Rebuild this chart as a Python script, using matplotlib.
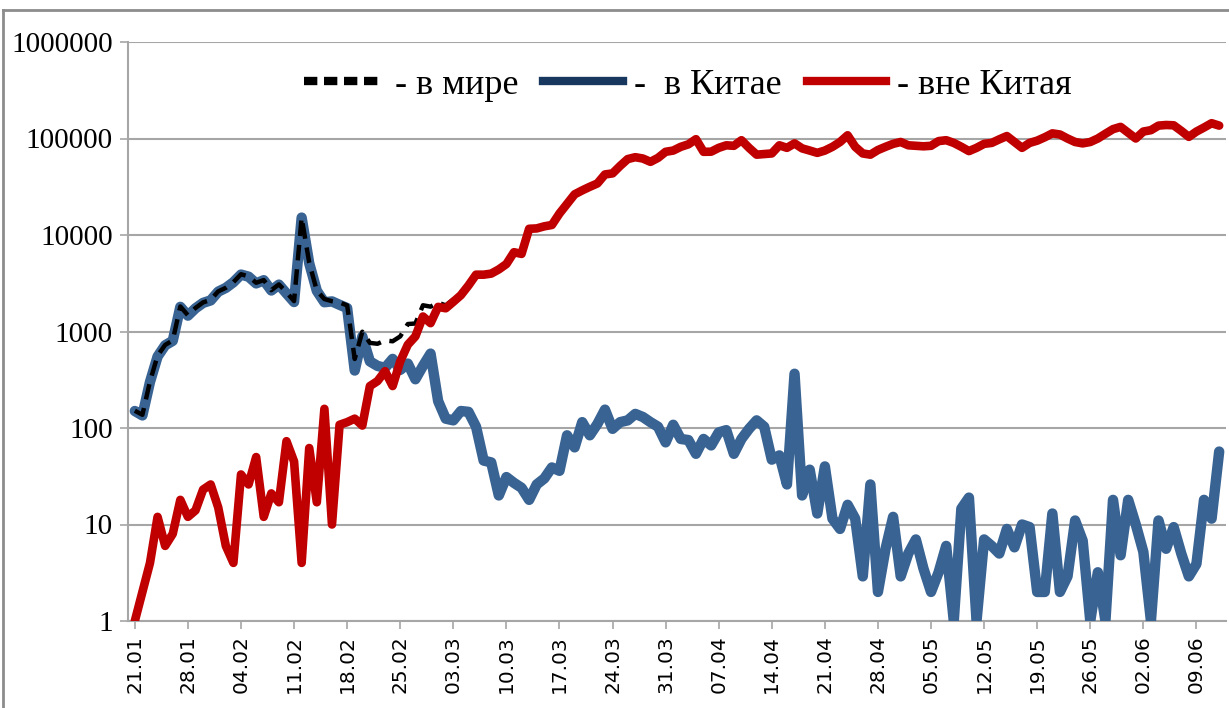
import matplotlib
matplotlib.use("Agg")
import matplotlib.pyplot as plt
from matplotlib.lines import Line2D
from matplotlib.ticker import FixedLocator, FixedFormatter, NullLocator
import numpy as np

# daily new cases, 21.01 .. 12.06
china = [
    150, 135, 300, 550, 720, 800, 1800, 1460, 1740, 1980,
    2100, 2590, 2830, 3240, 3890, 3700, 3150, 3400, 2660, 3060,
    2480, 2020, 15150, 5090, 2640, 2010, 2050, 1890, 1750, 394,
    889, 490, 440, 420, 520, 400, 465, 320, 440, 590,
    190, 125, 120, 150, 147, 103, 46, 44, 20, 31,
    27, 24, 18, 26, 30, 39, 36, 84, 63, 115,
    84, 110, 155, 98, 115, 120, 140, 130, 115, 103,
    71, 108, 77, 75, 54, 77, 66, 90, 95, 54,
    77, 98, 120, 103, 47, 52, 26, 365, 20, 37,
    13, 40, 11.5, 9, 16, 11.5, 2.9, 26, 2, 5.6,
    12, 2.9, 5, 7, 3.5, 2, 3.2, 6, 1, 14.6,
    19, 1, 7, 6, 5, 9, 5.8, 10, 9.4, 2,
    2, 13, 2, 2.9, 11, 6.8, 1, 3.2, 1, 18,
    4.8, 18, 10, 5.2, 1, 11, 5.6, 9.4, 5, 2.9,
    3.9, 18, 11.5, 57,
]

outside = [
    1, 2, 4, 12, 6, 8, 18, 12, 14, 23,
    26, 15, 6, 4, 33, 26, 50, 12, 21, 17,
    73, 45, 4, 62, 17, 158, 10, 108, 115, 125,
    106, 272, 306, 388, 272, 490, 730, 890, 1430, 1220,
    1800, 1740, 2030, 2380, 3000, 3880, 3880, 3980, 4400, 5000,
    6630, 6370, 11600, 11700, 12300, 12700, 16700, 21000, 26400, 29000,
    31600, 34200, 42400, 43500, 52000, 61200, 64000, 62000, 57300, 63000,
    72800, 75000, 82000, 87000, 98400, 72800, 73000, 80000, 85000, 84000,
    96000, 80000, 68000, 69000, 70000, 85000, 80000, 89000, 79000, 75000,
    71000, 75000, 82000, 92000, 108000, 82000, 70000, 68000, 76000, 82000,
    88000, 92000, 85000, 84000, 83000, 84000, 94000, 96000, 90000, 82000,
    74000, 80000, 88000, 90000, 98000, 106000, 92000, 80000, 90000, 95000,
    103000, 113000, 110000, 100000, 92000, 89000, 92000, 100000, 112000, 125000,
    132000, 115000, 100000, 118000, 122000, 136000, 138000, 137000, 120000, 104000,
    118000, 130000, 144000, 136000,
]

# world total, only the part that is not hidden under the red line
world = [
    151, 137, 304, 562, 726, 808, 1818, 1472, 1754, 2003,
    2126, 2605, 2836, 3244, 3923, 3726, 3200, 3412, 2681, 3077,
    2553, 2065, 15154, 5152, 2657, 2168, 2060, 1998, 1865, 519,
    995, 762, 746, 808, 792, 890, 1195, 1210, 1870, 1810,
    1990, 1865, 2150, 2530, 3150, 3983, 3926, 4024,
]

tick_labels = ["21.01", "28.01", "04.02", "11.02", "18.02", "25.02", "03.03",
               "10.03", "17.03", "24.03", "31.03", "07.04", "14.04", "21.04",
               "28.04", "05.05", "12.05", "19.05", "26.05", "02.06", "09.06"]
y_ticks = [1, 10, 100, 1000, 10000, 100000, 1000000]

blue = "#386393"
red = "#C00000"
grid = "#A6A6A6"

W, H = 1229, 708
fig = plt.figure(figsize=(W / 100, H / 100), dpi=100)
ax = fig.add_axes([128 / W, 1 - 621 / H, (1226 - 128) / W, (621 - 42) / H])

# outer chart frame (cropped)
fig.add_artist(Line2D([3 / W, 1], [1 - 10 / H, 1 - 10 / H], color="#8C8C8C", lw=2))
fig.add_artist(Line2D([3 / W, 3 / W], [0, 1 - 10 / H], color="#8C8C8C", lw=2))

x_ch = np.arange(len(china))
x_out = np.arange(len(outside))
x_w = np.arange(len(world))

ax.plot(x_ch, china, color=blue, lw=7.5, solid_joinstyle="round", solid_capstyle="round", zorder=3)
ax.plot(x_w, world, color="black", lw=3.2, dashes=(3.5, 2), dash_capstyle="butt", zorder=4)
ax.plot(x_out, outside, color=red, lw=6.2, solid_joinstyle="round", solid_capstyle="round", zorder=5)

ax.set_yscale("log")
ax.set_ylim(1, 1000000)
ax.set_xlim(-0.9, 143.9)

ax.yaxis.set_major_locator(FixedLocator(y_ticks))
ax.yaxis.set_major_formatter(FixedFormatter([str(v) for v in y_ticks]))
ax.yaxis.set_minor_locator(NullLocator())
ax.set_xticks(np.arange(0, 7 * len(tick_labels), 7))
ax.set_xticklabels(tick_labels, rotation=90, fontsize=14.5, family="DejaVu Sans")
for lab in ax.get_yticklabels():
    lab.set_family("Liberation Serif")
    lab.set_fontsize(21)

ax.tick_params(axis="y", length=6, width=1.2, color=grid, pad=5)
ax.tick_params(axis="x", length=6, width=1.2, color=grid, pad=4)
ax.grid(axis="y", color=grid, lw=1.5)
ax.set_axisbelow(True)
for side in ["top", "right"]:
    ax.spines[side].set_visible(False)
for side in ["left", "bottom"]:
    ax.spines[side].set_color(grid)
    ax.spines[side].set_linewidth(1.5)

handles = [
    Line2D([], [], color="black", lw=6, dashes=(1.6, 0.8), dash_capstyle="butt"),
    Line2D([], [], color="#17375E", lw=6),
    Line2D([], [], color=red, lw=6),
]
labels = ["- в мире", "-  в Китае", "- вне Китая"]
ax.legend(handles, labels, loc="center", bbox_to_anchor=(0.51, 0.925), ncol=3,
          frameon=False, prop={"family": "Liberation Serif", "size": 26},
          handlelength=2.2, handletextpad=0.3, columnspacing=0.7)

fig.savefig("out.png", dpi=100)
